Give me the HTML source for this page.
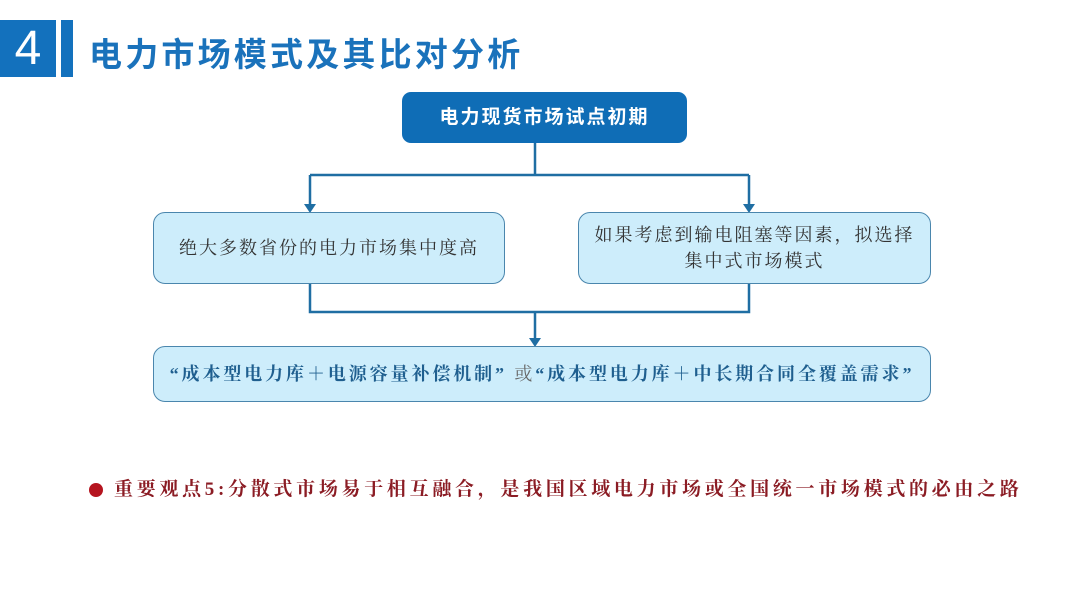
<!DOCTYPE html>
<html><head><meta charset="utf-8"><style>
body{margin:0;width:1080px;height:608px;background:#fff;position:relative;overflow:hidden;font-family:"Liberation Sans","Noto Sans CJK SC",sans-serif}
.a{position:absolute}
.box{position:absolute;background:#cdedfb;border:1.5px solid #4a86ad;border-radius:12px;box-sizing:border-box;display:flex;align-items:center;justify-content:center;text-align:center;font-family:"Liberation Serif","Noto Serif CJK SC",serif;color:#333;font-size:18px;letter-spacing:2px;line-height:26px}
</style></head><body>
<div class="a" style="left:0;top:20px;width:56px;height:57px;background:#1371bd;color:#fff;font-size:48px;line-height:57px;text-align:center">4</div>
<div class="a" style="left:61px;top:20px;width:12px;height:57px;background:#1371bd"></div>
<div class="a" style="left:89px;top:34px;font-size:33px;line-height:42px;color:#1a72bb;font-weight:bold;letter-spacing:3.2px">电力市场模式及其比对分析</div>
<div class="a" style="left:402px;top:92px;width:285px;height:51px;background:#0f6db6;border-radius:9px;color:#fff;font-weight:bold;font-size:19px;line-height:51px;text-align:center;letter-spacing:2px">电力现货市场试点初期</div>
<svg class="a" style="left:0;top:0" width="1080" height="608">
<g stroke="#1f6ea3" stroke-width="2.5" fill="none">
<path d="M535 143V175M310 175H749M310 175V206M749 175V206"/>
<path d="M310 284V312H749V284M535 312V340"/>
</g>
<g fill="#1f6ea3"><path d="M304 204L316 204L310 213Z"/><path d="M743 204L755 204L749 213Z"/><path d="M529 338L541 338L535 347Z"/></g>
</svg>
<div class="box" style="left:153px;top:212px;width:352px;height:72px">绝大多数省份的电力市场集中度高</div>
<div class="box" style="left:578px;top:212px;width:353px;height:72px">如果考虑到输电阻塞等因素，拟选择<br>集中式市场模式</div>
<div class="box" style="left:153px;top:346px;width:778px;height:56px;color:#1f5f8f;font-weight:bold;letter-spacing:2.9px"><span>“成本型电力库＋电源容量补偿机制” <span style="font-weight:normal;color:#666">或</span>“成本型电力库＋中长期合同全覆盖需求”</span></div>
<div class="a" style="left:89px;top:483px;width:14px;height:14px;border-radius:50%;background:#b5141f"></div>
<div class="a" style="left:114px;top:477px;font-family:'Liberation Serif','Noto Serif CJK SC',serif;font-weight:bold;color:#8b1c24;font-size:19px;line-height:26px;letter-spacing:3.7px;white-space:nowrap">重要观点5:分散式市场易于相互融合，是我国区域电力市场或全国统一市场模式的必由之路</div>
</body></html>
